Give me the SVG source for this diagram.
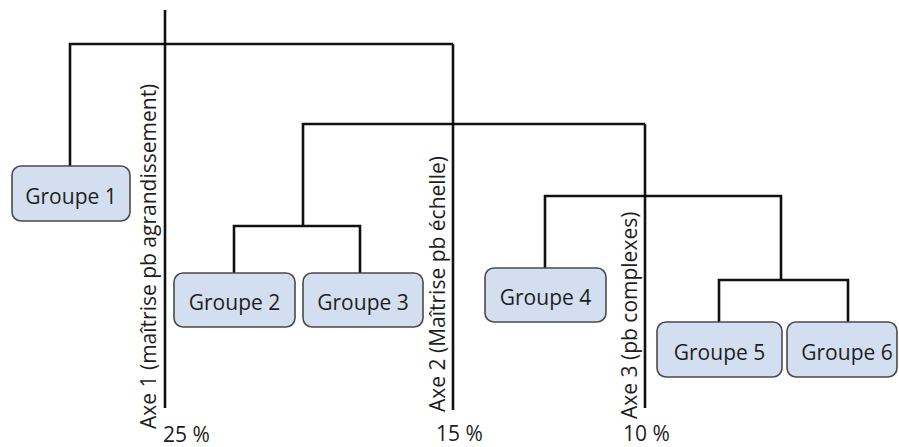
<svg xmlns="http://www.w3.org/2000/svg" width="899" height="447" viewBox="0 0 899 447">
  <style>
    .box { fill: #d3dff0; stroke: #4a4a4a; stroke-width: 1.6; }
    .lbl { font-family: "Open Sans", "Liberation Sans", sans-serif; font-size: 21px; fill: #1e1e1e; }
    .ctr { text-anchor: middle; }
    .link { fill: none; stroke: #111; stroke-width: 2.6; stroke-linejoin: miter; stroke-linecap: butt; }
  </style>
  <rect width="899" height="447" fill="#ffffff"/>

  <!-- tree connectors and axis lines -->
  <g id="connectors">
    <path class="link" d="M165,10 V408"/>
    <path class="link" d="M453,44 V410"/>
    <path class="link" d="M645,124 V408"/>
    <path class="link" d="M70,166 V44 H453"/>
    <path class="link" d="M303,226 V124 H645"/>
    <path class="link" d="M234,273 V226 H360 V273"/>
    <path class="link" d="M545,268 V196 H781 V280"/>
    <path class="link" d="M719,322 V280 H848 V322"/>
  </g>

  <!-- axis captions -->
  <g id="axis-labels">
    <text class="lbl" transform="translate(156,429) rotate(-90)">Axe 1 (maîtrise pb agrandissement)</text>
    <text class="lbl" transform="translate(445,412) rotate(-90)">Axe 2 (Maîtrise pb échelle)</text>
    <text class="lbl" transform="translate(637,419) rotate(-90)">Axe 3 (pb complexes)</text>
    <text class="lbl" x="163" y="442">25 %</text>
    <text class="lbl" x="436" y="441">15 %</text>
    <text class="lbl" x="623" y="441">10 %</text>
  </g>

  <g id="groupe1">
    <rect class="box" x="12" y="166" width="118" height="55" rx="9"/>
    <text class="lbl ctr" x="71" y="204">Groupe 1</text>
  </g>
  <g id="groupe2">
    <rect class="box" x="174" y="273" width="121" height="54" rx="9"/>
    <text class="lbl ctr" x="234.5" y="310">Groupe 2</text>
  </g>
  <g id="groupe3">
    <rect class="box" x="303" y="273" width="120" height="54" rx="9"/>
    <text class="lbl ctr" x="363" y="310">Groupe 3</text>
  </g>
  <g id="groupe4">
    <rect class="box" x="485" y="268" width="121" height="54" rx="9"/>
    <text class="lbl ctr" x="545.5" y="305">Groupe 4</text>
  </g>
  <g id="groupe5">
    <rect class="box" x="657" y="322" width="125" height="55" rx="9"/>
    <text class="lbl ctr" x="719.5" y="360">Groupe 5</text>
  </g>
  <g id="groupe6">
    <rect class="box" x="787" y="322" width="110" height="55" rx="9"/>
    <text class="lbl ctr" x="847" y="360">Groupe 6</text>
  </g>
</svg>
